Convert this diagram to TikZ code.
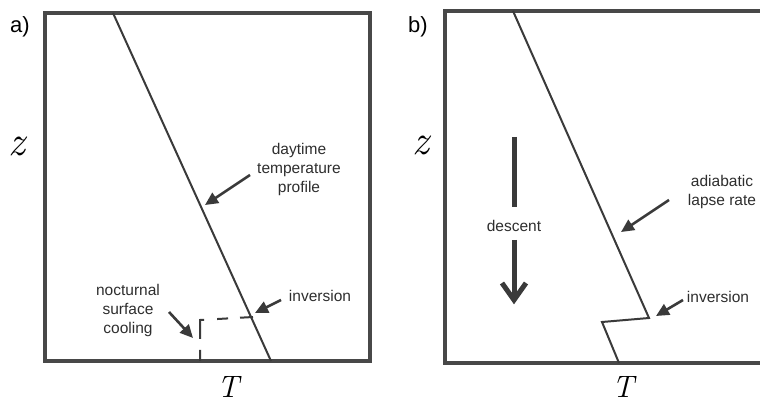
\documentclass[tikz,border=0pt]{standalone}
\usepackage{fontspec}
\setsansfont{Liberation Sans}
\usetikzlibrary{arrows.meta}
\definecolor{ink}{HTML}{3A3A3A}
\definecolor{frame}{HTML}{484848}
\definecolor{txt}{HTML}{2E2E2E}
\tikzset{
  panelframe/.style={draw=frame, line width=3.5pt, line join=miter},
  profile/.style={draw=ink, line width=2pt, line join=miter},
  pointer/.style={draw=ink, line width=2.6pt, -{Triangle[length=13pt,width=12pt]}},
  lbl/.style={text=txt, font=\sffamily\fontsize{15.5}{19}\selectfont, inner sep=0pt, align=center},
  tag/.style={text=black, font=\sffamily\fontsize{22}{24}\selectfont, inner sep=0pt},
  zlab/.style={text=black, inner sep=0pt, font=\rmfamily\itshape\fontsize{42}{42}\selectfont},
  tlab/.style={text=black, inner sep=0pt, font=\rmfamily\itshape\fontsize{31}{31}\selectfont},
}
\begin{document}
\begin{tikzpicture}[x=1pt,y=-1pt]
\useasboundingbox (0,0) rectangle (760,403);
\fill[white] (0,0) rectangle (760,403);

% ---------------- panel a ----------------
\draw[panelframe] (45,13) rectangle (370,361);
\coordinate (aTop) at (113,13);
\coordinate (aBot) at (271,361);
\draw[profile] (aTop) -- (aBot);
\coordinate (aInvR) at (253,317);
\coordinate (aCorner) at (200,320);
\coordinate (aGround) at (200,361);
\draw[draw=ink, line width=2pt, dash pattern=on 13pt off 12pt on 11pt off 13pt on 23pt off 11pt on 11pt]
  (aInvR) -- (aCorner) -- (aGround);

\node[tag] (taga) at (20,27) {a)};
\node[zlab] (za) at (17,146) {z};
\node[tlab] (Ta) at (228,387) {T};

\node[lbl] (day) at (299,169) {daytime\\temperature\\profile};
\coordinate (dayS) at (250,175);
\coordinate (dayE) at (205,205);
\draw[pointer] (dayS) -- (dayE);

\node[lbl] (inva) at (320,296) {inversion};
\coordinate (invaS) at (281,300);
\coordinate (invaE) at (255,313);
\draw[pointer] (invaS) -- (invaE);

\node[lbl] (noc) at (128,310) {nocturnal\\surface\\cooling};
\coordinate (nocS) at (169,312);
\coordinate (nocE) at (193,338);
\draw[pointer] (nocS) -- (nocE);

% ---------------- panel b ----------------
\draw[panelframe] (760,11) -- (445,11) -- (445,363) -- (760,363);
\coordinate (bTop) at (513,11);
\coordinate (bKnee) at (649,318);
\coordinate (bBack) at (602,322);
\coordinate (bBot) at (619,363);
\draw[profile] (bTop) -- (bKnee) -- (bBack) -- (bBot);

\node[tag] (tagb) at (418,27) {b)};
\node[zlab] (zb) at (421,145) {z};
\node[tlab] (Tb) at (623,387) {T};

\node[lbl] (adi) at (722,192) {adiabatic\\lapse rate};
\coordinate (adiS) at (669,200);
\coordinate (adiE) at (621,232);
\draw[pointer] (adiS) -- (adiE);

\node[lbl] (invb) at (718,297) {inversion};
\coordinate (invbS) at (683,300);
\coordinate (invbE) at (656,316);
\draw[pointer] (invbS) -- (invbE);

\node[lbl] (desc) at (514,226) {descent};
\coordinate (barTop) at (514,137);
\coordinate (barBot) at (514,207);
\draw[draw=ink, line width=5pt] (barTop) -- (barBot);
\coordinate (shaftTop) at (514,240);
\coordinate (shaftTip) at (514,300);
\draw[draw=ink, line width=5pt] (shaftTop) -- (shaftTip);
\coordinate (chevL) at (502,283);
\coordinate (chevR) at (526,283);
\draw[draw=ink, line width=5pt, line join=miter, miter limit=3] (chevL) -- (shaftTip) -- (chevR);
\end{tikzpicture}
\end{document}
